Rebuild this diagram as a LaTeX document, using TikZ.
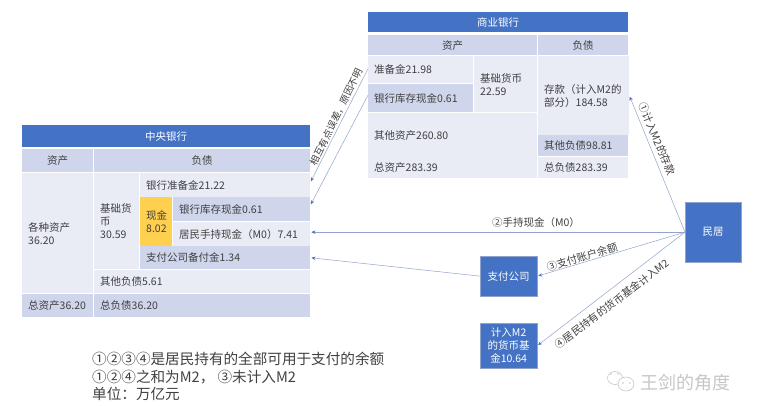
\documentclass[tikz,border=0pt]{standalone}
\usepackage{fontspec}
\setmainfont{Noto Sans CJK SC}
\usepackage{tikz}
\usetikzlibrary{arrows.meta,calc}
\definecolor{headblue}{HTML}{4472C4}
\definecolor{cellpale}{HTML}{E9EBF5}
\definecolor{celldark}{HTML}{CFD5EA}
\definecolor{cellgold}{HTML}{FFD050}
\definecolor{linkblue}{HTML}{8FA3CC}
\definecolor{inkgray}{HTML}{404040}
\tikzset{
	cell/.style={anchor=north west,inner xsep=6pt,inner ysep=0pt,align=left,text=inkgray,font=\fontsize{10.5}{13}\selectfont},
	pale/.style={cell,fill=cellpale},
	dark/.style={cell,fill=celldark},
	gold/.style={cell,fill=cellgold},
	title/.style={anchor=north west,inner sep=0pt,align=center,fill=headblue,text=white,font=\fontsize{10.5}{13}\selectfont},
	agent/.style={title,draw=linkblue,line width=0.3pt},
	link/.style={draw=linkblue,line width=0.5pt,-{Stealth[length=4pt,width=3.5pt,color=headblue]},shorten >=1pt},
	tag/.style={text=inkgray,inner sep=0pt,font=\fontsize{10.5}{12}\selectfont}
}
\begin{document}
\begin{tikzpicture}[x=1pt,y=-1pt]
	\useasboundingbox (0,0) rectangle (758,405);

	% --- commercial bank ---
	\node[title,minimum width=260pt,minimum height=20pt] (cmhead) at (368,12) {商业银行};
	\node[dark,align=center,text width=157pt,minimum height=20pt] (cmassets) at (368,35) {资产};
	\node[dark,align=center,text width=78pt,minimum height=20pt] (cmdebts) at (538,35) {负债};
	\node[pale,text width=93pt,minimum height=27pt] (cmreserve) at (368,56) {准备金21.98};
	\node[dark,text width=93pt,minimum height=28pt] (cmcash) at (368,84) {银行库存现金0.61};
	\node[pale,text width=51pt,minimum height=56pt] (cmbase) at (474,56) {基础货币\\22.59};
	\node[pale,text width=157pt,minimum height=44pt] (cmother) at (368,113) {其他资产260.80};
	\node[pale,text width=157pt,minimum height=21pt] (cmtotal) at (368,157) {总资产283.39};
	\node[pale,text width=79pt,minimum height=79pt] (cmdeposit) at (538,56) {存款（计入M2的\\部分）184.58};
	\node[dark,text width=78pt,minimum height=21pt] (cmotherdebt) at (538,135) {其他负债98.81};
	\node[pale,text width=78pt,minimum height=21pt] (cmtotaldebt) at (538,157) {总负债283.39};

	% --- central bank ---
	\node[title,minimum width=288pt,minimum height=22pt] (cbhead) at (22,125) {中央银行};
	\node[dark,align=center,text width=59pt,minimum height=23pt] (cbassets) at (22,149) {资产};
	\node[dark,align=center,text width=204pt,minimum height=23pt] (cbdebts) at (94,149) {负债};
	\node[pale,text width=59pt,minimum height=120pt] (cbvarious) at (22,173) {各种资产\\36.20};
	\node[pale,text width=33pt,minimum height=96pt] (cbbase) at (94,173) {基础货\\币\\30.59};
	\node[pale,text width=158pt,minimum height=24pt] (cbreserve) at (140,173) {银行准备金21.22};
	\node[gold,text width=20pt,minimum height=49pt] (cbmoney) at (140,197) {现金\\8.02};
	\node[dark,text width=125pt,minimum height=24pt] (cbcash) at (173,197) {银行库存现金0.61};
	\node[pale,text width=125pt,minimum height=24pt] (cbheld) at (173,222) {居民手持现金（M0）7.41};
	\node[dark,text width=158pt,minimum height=23pt] (cbpay) at (140,246) {支付公司备付金1.34};
	\node[pale,text width=204pt,minimum height=23pt] (cbother) at (94,270) {其他负债5.61};
	\node[dark,text width=59pt,minimum height=23pt] (cbtotal) at (22,294) {总资产36.20};
	\node[dark,text width=204pt,minimum height=23pt] (cbtotaldebt) at (94,294) {总负债36.20};

	% --- agents ---
	\node[agent,minimum width=56pt,minimum height=60pt] (people) at (685,202) {民居};
	\node[agent,minimum width=57pt,minimum height=40pt] (paycom) at (480,256) {支付公司};
	\node[agent,minimum width=57pt,minimum height=45pt,text width=50pt] (fund) at (480,323) {计入M2\\的货币基\\金10.64};

	% --- connectors ---
	\draw[link] ([yshift=1pt]cmreserve.west) -- ([yshift=3pt]cbreserve.east);
	\draw[link] ([yshift=3pt]cmcash.west) -- ([yshift=4pt]cbcash.east);
	\draw[link] (people.west) -- (cmdeposit.east);
	\draw[link] (people.west) -- (people.west -| cbheld.east);
	\draw[link] (people.west) -- (paycom.east);
	\draw[link] (people.west) -- (fund.east);
	\draw[link] (paycom.west) -- (cbpay.east);

	% --- labels on connectors ---
	\node[tag,rotate=64,font=\fontsize{9.7}{12}\selectfont] (lbquery) at (336,117) {相互有点误差，原因不明};
	\node[tag,rotate=-67.5] (lbdeposit) at (657,139) {①计入M2的存款};
	\node[tag] (lbheld) at (536,223) {②手持现金（M0）};
	\node[tag,rotate=17] (lbpay) at (582,257) {③支付账户余额};
	\node[tag,rotate=37] (lbfund) at (612,304) {④居民持有的货币基金计入M2};

	% --- notes ---
	\node[anchor=north west,inner sep=0pt,align=left,text=inkgray,font=\fontsize{14.6}{17.5}\selectfont] (notes) at (92,352) {①②③④是居民持有的全部可用于支付的余额\\①②④之和为M2， ③未计入M2\\单位：万亿元};

	% --- watermark ---
	\draw[gray!45,line width=0.6pt,fill=white] (615,378) ellipse (7.5pt and 6.5pt);
	\draw[gray!45,line width=0.6pt,fill=white] (626,384) ellipse (8pt and 7pt);
	\fill[gray!45] (623,383) circle (0.8pt) (630,383) circle (0.8pt);
	\fill[gray!45] (611,374) circle (0.8pt) (618,374) circle (0.8pt);
	\node[anchor=west,inner sep=0pt,text=gray!45,font=\fontsize{18}{20}\selectfont] (mark) at (640,383) {王剑的角度};
\end{tikzpicture}
\end{document}
